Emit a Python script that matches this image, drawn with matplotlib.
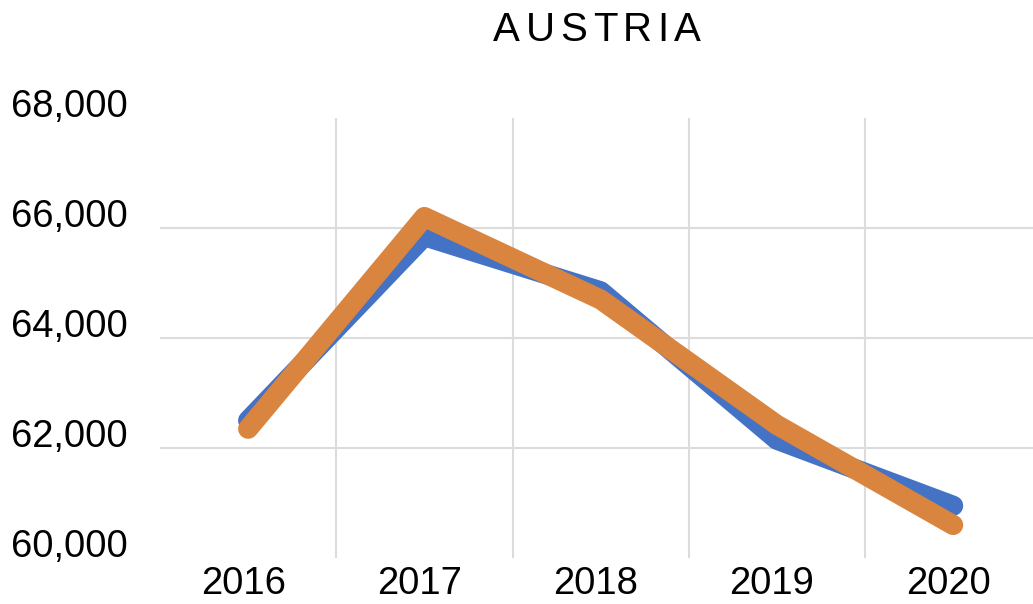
import matplotlib.pyplot as plt
import matplotlib.transforms as mtransforms
from matplotlib.ticker import FuncFormatter

plt.rcParams["font.family"] = ["Liberation Sans", "DejaVu Sans"]

# Datos
years = ["2016", "2017", "2018", "2019", "2020"]
serie_azul = [62500, 65850, 64850, 62150, 60950]
serie_naranja = [62350, 66200, 64700, 62420, 60600]
y_ticks = [60000, 62000, 64000, 66000, 68000]

AZUL = "#4472C4"
NARANJA = "#D9843F"
GRIS = "#DCDCDC"

fig = plt.figure(figsize=(10.33, 6.04), dpi=100)
ax = fig.add_axes([160 / 1033, 46 / 604, 873 / 1033, 440 / 604])

x = list(range(len(years)))
ax.plot(x, serie_azul, color=AZUL, lw=14.5, solid_capstyle="round",
        solid_joinstyle="round", zorder=3)
ax.plot(x, serie_naranja, color=NARANJA, lw=14.5, solid_capstyle="round",
        solid_joinstyle="round", zorder=4)

ax.set_xlim(-0.5, 4.453)
ax.set_ylim(60000, 68000)
ax.set_xticks(x)
ax.set_xticklabels(years)
ax.set_xticks([0.5, 1.5, 2.5, 3.5], minor=True)
ax.set_yticks(y_ticks)
ax.yaxis.set_major_formatter(FuncFormatter(lambda v, p: f"{int(v):,}"))

# Rejilla: verticales entre categorías, horizontales solo interiores
ax.grid(which="minor", axis="x", color=GRIS, lw=1.5)
for yv in y_ticks[1:-1]:
    ax.axhline(yv, color=GRIS, lw=1.5, zorder=1)

ax.tick_params(axis="both", which="both", length=0, labelsize=27.5)
ax.tick_params(axis="y", pad=23)
ax.tick_params(axis="x", pad=6)
for s in ax.spines.values():
    s.set_visible(False)

# Etiquetas del eje y un poco por encima de la línea
up = mtransforms.ScaledTranslation(0, 15 / 100, fig.dpi_scale_trans)
for lab in ax.get_yticklabels():
    lab.set_transform(lab.get_transform() + up)
left = mtransforms.ScaledTranslation(-5 / 100, 0, fig.dpi_scale_trans)
for lab in ax.get_xticklabels():
    lab.set_transform(lab.get_transform() + left)

# Título con espaciado entre letras
titulo = "AUSTRIA"
renderer = fig.canvas.get_renderer()
tam = 29
extra = 5.5  # px entre letras
anchos = []
for ch in titulo:
    t = fig.text(0, 0, ch, fontsize=tam)
    anchos.append(t.get_window_extent(renderer).width)
    t.remove()
total = sum(anchos) + extra * (len(titulo) - 1)
xpx = 597 - total / 2
for ch, w in zip(titulo, anchos):
    fig.text(xpx / 1033, 1 - 30 / 604, ch, fontsize=tam, ha="left", va="center")
    xpx += w + extra

fig.savefig("out.png", dpi=100)
